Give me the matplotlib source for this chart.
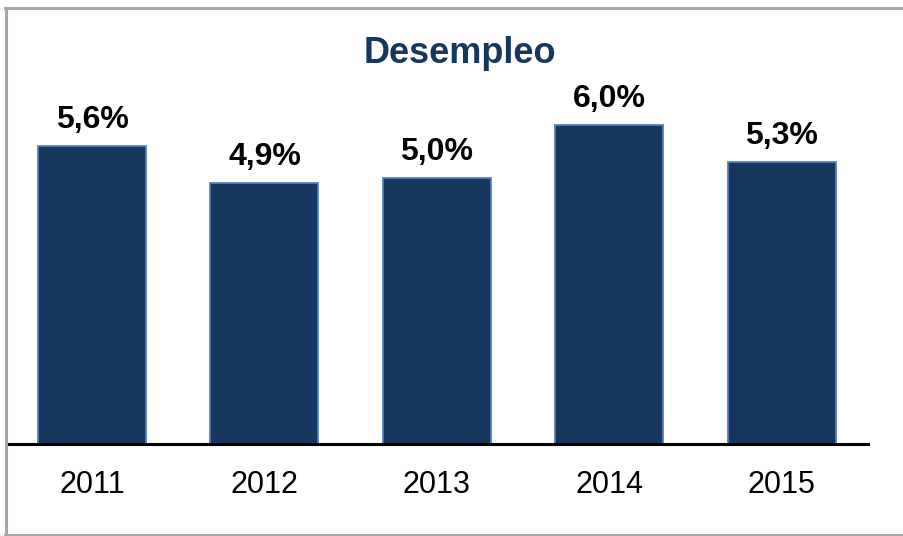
import matplotlib
matplotlib.use('Agg')
import matplotlib.pyplot as plt
from matplotlib.lines import Line2D

plt.rcParams['font.family'] = ['Liberation Sans', 'DejaVu Sans']

# data
years = ['2011', '2012', '2013', '2014', '2015']
desempleo = [5.6, 4.9, 5.0, 6.0, 5.3]
etiquetas = ['5,6%', '4,9%', '5,0%', '6,0%', '5,3%']

navy = '#17375E'
edge = '#4F81BD'

W, H = 904, 536
fig = plt.figure(figsize=(W / 100, H / 100), dpi=100)

# axes placed in pixel terms: baseline at y=444, x from 8 to 868
base_y = 444
top_y = base_y - 53.2 * 7
ax = fig.add_axes([8 / W, (H - base_y) / H, 860 / W, (base_y - top_y) / H])

x = list(range(len(years)))
ax.bar(x, desempleo, width=0.626, color=navy, edgecolor=edge, linewidth=1.3, zorder=2)

for xi, v, t in zip(x, desempleo, etiquetas):
    ax.annotate(t, (xi, v), xytext=(0, 13), textcoords='offset points',
                ha='center', va='baseline', fontsize=23, fontweight='bold', color='black')

ax.set_xlim(-0.487, 4.499)
ax.set_ylim(0, 7)
ax.set_yticks([])
ax.set_xticks(x)
ax.set_xticklabels(years, fontsize=22)
ax.tick_params(axis='x', length=0, pad=19)

for s in ['top', 'right', 'left']:
    ax.spines[s].set_visible(False)
ax.spines['bottom'].set_linewidth(2.2)
ax.spines['bottom'].set_color('black')
ax.patch.set_alpha(0)

fig.text(460 / W, (H - 63) / H, 'Desempleo', ha='center', va='baseline',
         fontsize=26, fontweight='bold', color=navy)

# gray frame (left, top, bottom)
gray = '#A6A6A6'
fig.add_artist(Line2D([6.5 / W, 6.5 / W], [(H - 7.5) / H, 1.5 / H], color=gray, linewidth=2.2,
                      transform=fig.transFigure))
fig.add_artist(Line2D([5 / W, 1], [(H - 7.5) / H, (H - 7.5) / H], color=gray, linewidth=2.2,
                      transform=fig.transFigure))
fig.add_artist(Line2D([5 / W, 1], [1.5 / H, 1.5 / H], color=gray, linewidth=2.2,
                      transform=fig.transFigure))

fig.savefig('out.png', dpi=100)
